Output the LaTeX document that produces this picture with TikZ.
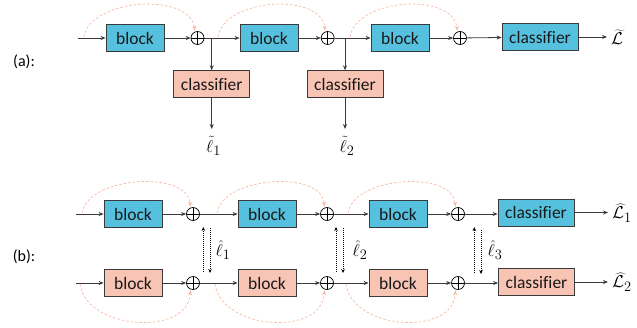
\documentclass[tikz,border=0pt]{standalone}
\usepackage[no-math]{fontspec}
\setmainfont{Carlito}[Ligatures=NoCommon]
\usetikzlibrary{arrows.meta}
\definecolor{bblue}{HTML}{55C1DF}
\definecolor{salm}{HTML}{F8C5B4}
\definecolor{arcc}{HTML}{F6B8A3}
\definecolor{ln}{HTML}{3A3A3A}
\tikzset{
 boxb/.style={draw=ln, line width=0.8pt, fill=bblue, minimum width=58pt, minimum height=27pt, inner sep=0pt, text=black!90, font=\fontsize{17.5}{19}\selectfont},
 boxs/.style={boxb, fill=salm},
 widebox/.style={minimum width=76pt},
 sumnode/.style={circle, draw=black, line width=0.7pt, minimum size=13pt, inner sep=0pt,
   path picture={\draw[line width=0.7pt] (path picture bounding box.north) -- (path picture bounding box.south) (path picture bounding box.west) -- (path picture bounding box.east);}},
 conn/.style={draw=ln, line width=0.8pt, -{Stealth[length=5pt,width=4pt]}},
 line0/.style={draw=ln, line width=0.8pt},
 skiparc/.style={draw=arcc, line width=0.7pt, dash pattern=on 2.5pt off 2pt, shorten >=1pt, -{Stealth[length=5pt,width=4pt]}},
 fb/.style={draw=black, line width=0.7pt, dash pattern=on 1pt off 1pt, -{Stealth[length=4pt,width=3.5pt]}},
 lab/.style={font=\fontsize{19}{22}\selectfont, inner sep=0pt},
 tag/.style={font=\fontsize{16}{18}\selectfont, inner sep=0pt},
}
\begin{document}
\begin{tikzpicture}[x=1pt,y=-1pt]
\useasboundingbox (0,0) rectangle (637,327);
% ---------- (a) ----------
\node[tag] (ta) at (24,62) {(a):};
\coordinate (a_in) at (78,38);
\node[boxb] (a_b1) at (135,38) {block};
\node[sumnode] (a_p1) at (197.5,38) {};
\coordinate (a_j1) at (211.7,38);
\node[boxs, widebox] (a_c1) at (211.7,84.2) {classifier};
\coordinate (a_e1) at (211.7,129);
\node[lab] (a_l1) at (213.5,146) {$\tilde{\ell}_1$};
\node[boxb] (a_b2) at (269,38) {block};
\node[sumnode] (a_p2) at (327.7,38) {};
\coordinate (a_j2) at (345,38);
\node[boxs, widebox] (a_c2) at (345,84.2) {classifier};
\coordinate (a_e2) at (345,129);
\node[lab] (a_l2) at (347,146) {$\tilde{\ell}_2$};
\node[boxb] (a_b3) at (400,38) {block};
\node[sumnode] (a_p3) at (460,38) {};
\node[boxb, widebox] (a_c3) at (540,37) {classifier};
\node[lab, anchor=west] (a_L) at (611,37) {$\widetilde{\mathcal{L}}$};

\draw[conn] (a_in) -- (a_b1);
\draw[conn] (a_b1) -- (a_p1);
\draw[line0] (a_p1) -- (a_j1);
\draw[conn] (a_j1) -- (a_b2);
\draw[conn] (a_j1) -- (a_c1);
\draw[conn] (a_c1) -- (a_e1);
\draw[conn] (a_b2) -- (a_p2);
\draw[line0] (a_p2) -- (a_j2);
\draw[conn] (a_j2) -- (a_b3);
\draw[conn] (a_j2) -- (a_c2);
\draw[conn] (a_c2) -- (a_e2);
\draw[conn] (a_b3) -- (a_p3);
\draw[conn] (a_p3) -- (a_c3);
\draw[conn, shorten >=4pt] (a_c3) -- (a_c3 -| a_L.west);

\coordinate (a_s1) at (84,37);
\coordinate (a_s2) at (218,37);
\coordinate (a_s3) at (350,37);
\draw[skiparc] (a_s1) .. controls (90,-2) and (190,-8) .. (a_p1.112);
\draw[skiparc] (a_s2) .. controls (224,-2) and (321,-8) .. (a_p2.112);
\draw[skiparc] (a_s3) .. controls (356,-2) and (453,-8) .. (a_p3.112);

% ---------- (b) ----------
\node[tag] (tb) at (24,257) {(b):};
% top row
\coordinate (b_in) at (76,214);
\node[boxb] (b_b1) at (133,214) {block};
\node[sumnode] (b_p1) at (193,214) {};
\node[boxb] (b_b2) at (267,214) {block};
\node[sumnode] (b_p2) at (327,214) {};
\node[boxb] (b_b3) at (398,214) {block};
\node[sumnode] (b_p3) at (458,214) {};
\node[boxb, widebox] (b_c) at (536,212.5) {classifier};
\node[lab, anchor=west] (b_L) at (612,213) {$\widehat{\mathcal{L}}_1$};
% bottom row
\coordinate (d_in) at (76,283);
\node[boxs] (d_b1) at (133,283) {block};
\node[sumnode] (d_p1) at (193,283) {};
\node[boxs] (d_b2) at (267,283) {block};
\node[sumnode] (d_p2) at (327,283) {};
\node[boxs] (d_b3) at (398,283) {block};
\node[sumnode] (d_p3) at (458,283) {};
\node[boxs, widebox] (d_c) at (536.5,282) {classifier};
\node[lab, anchor=west] (d_L) at (612,282) {$\widehat{\mathcal{L}}_2$};

\foreach \r in {b,d}{
  \draw[conn] (\r_in) -- (\r_b1);
  \draw[conn] (\r_b1) -- (\r_p1);
  \draw[conn] (\r_p1) -- (\r_b2);
  \draw[conn] (\r_b2) -- (\r_p2);
  \draw[conn] (\r_p2) -- (\r_b3);
  \draw[conn] (\r_b3) -- (\r_p3);
  \draw[conn] (\r_p3) -- (\r_p3 -| \r_c.west);
}
\draw[conn, shorten >=4pt] (b_c) -- (b_c -| b_L.west);
\draw[conn, shorten >=4pt] (d_c) -- (d_c -| d_L.west);

% skip arcs
\coordinate (b_s1) at (82,213);
\coordinate (b_s2) at (217,213);
\coordinate (b_s3) at (348,213);
\draw[skiparc] (b_s1) .. controls (88,176) and (188,170) .. (b_p1.112);
\draw[skiparc] (b_s2) .. controls (223,176) and (322,170) .. (b_p2.112);
\draw[skiparc] (b_s3) .. controls (354,176) and (453,170) .. (b_p3.112);
\coordinate (d_s1) at (80,284);
\coordinate (d_s2) at (215,284);
\coordinate (d_s3) at (346,284);
\draw[skiparc] (d_s1) .. controls (86,330) and (188,337) .. (d_p1.248);
\draw[skiparc] (d_s2) .. controls (221,330) and (322,337) .. (d_p2.248);
\draw[skiparc] (d_s3) .. controls (352,330) and (453,337) .. (d_p3.248);

% feedback arrows
\coordinate (u1s) at (203.3,272); \coordinate (u1e) at (203.3,227);
\coordinate (v1s) at (210,228);   \coordinate (v1e) at (210,273);
\coordinate (u2s) at (336,272);   \coordinate (u2e) at (336,227);
\coordinate (v2s) at (343,228);   \coordinate (v2e) at (343,273);
\coordinate (u3s) at (474.3,273); \coordinate (u3e) at (474.3,227);
\coordinate (v3s) at (481,230);   \coordinate (v3e) at (481,274);
\draw[fb] (u1s) -- (u1e);
\draw[fb] (v1s) -- (v1e);
\draw[fb] (u2s) -- (u2e);
\draw[fb] (v2s) -- (v2e);
\draw[fb] (u3s) -- (u3e);
\draw[fb] (v3s) -- (v3e);
\node[lab] (h1) at (223,250) {$\hat{\ell}_1$};
\node[lab] (h2) at (360,250) {$\hat{\ell}_2$};
\node[lab] (h3) at (495,250) {$\hat{\ell}_3$};
\end{tikzpicture}
\end{document}
